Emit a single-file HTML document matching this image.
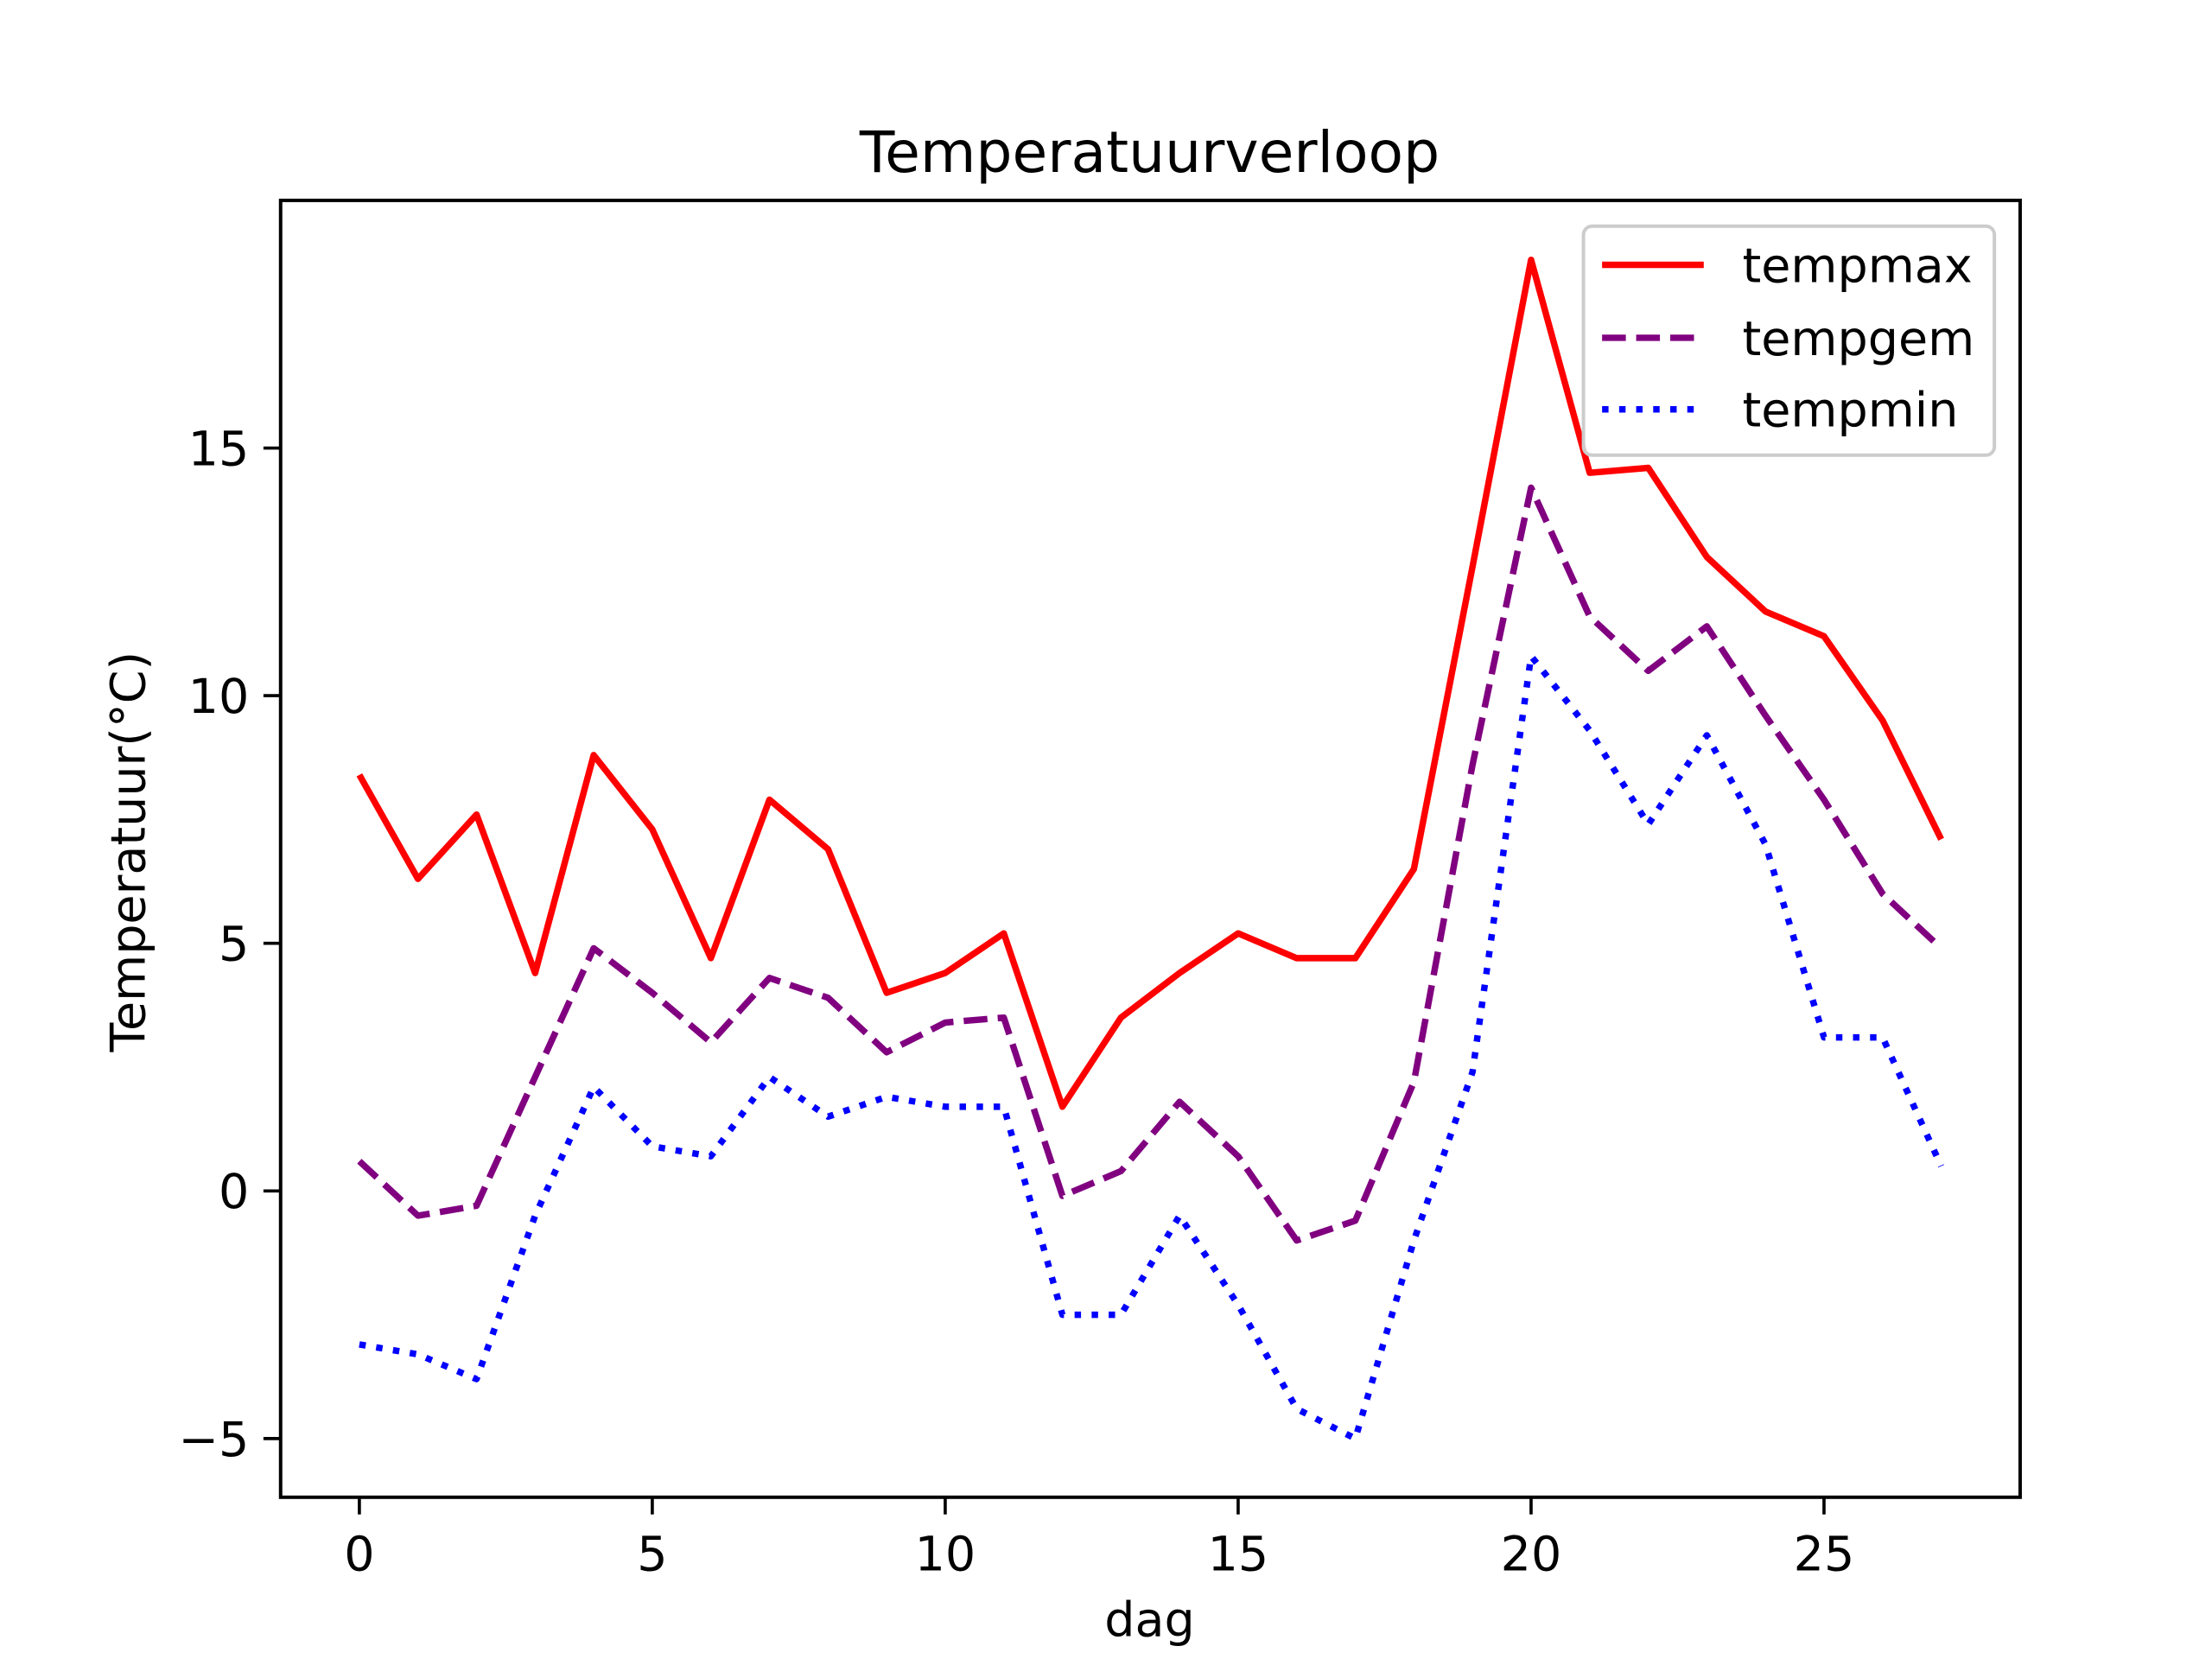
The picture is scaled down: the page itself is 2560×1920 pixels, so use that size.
<!DOCTYPE html>
<html><head><meta charset="utf-8"><style>html,body{margin:0;padding:0;background:#fff}svg{display:block}</style></head>
<body>
<svg id="s" width="2560" height="1920" viewBox="0 0 1545 1159" preserveAspectRatio="none" xmlns="http://www.w3.org/2000/svg" font-family="DejaVu Sans, Liberation Sans, sans-serif">
<rect width="1545" height="1159" fill="#fff"/>
<text x="803" y="120" font-size="40" text-anchor="middle">Temperatuurverloop</text>
<g id="lines" fill="none" stroke-width="4.5"></g>
<rect x="196" y="140" width="1215" height="906" fill="none" stroke="#000" stroke-width="2.4"/>
<g id="ticks" font-size="33.5" fill="#000"></g>
<text x="803" y="1143" font-size="33.5" text-anchor="middle">dag</text>
<text transform="translate(101,595) rotate(-90)" font-size="33.5" text-anchor="middle">Temperatuur(°C)</text>
<rect x="1106" y="158" width="287" height="160" rx="6" fill="#fff" fill-opacity="0.8" stroke="#ccc" stroke-width="2.4"/>
<line x1="1119" y1="185" x2="1190" y2="185" stroke="#f00" stroke-width="4.5"/>
<line x1="1119" y1="236" x2="1190" y2="236" stroke="#800080" stroke-width="4.5" stroke-dasharray="16.6,7.2"/>
<line x1="1119" y1="286" x2="1190" y2="286" stroke="#00f" stroke-width="4.5" stroke-dasharray="4.5,7.4"/>
<text x="1217" y="197" font-size="33.5">tempmax</text>
<text x="1217" y="248" font-size="33.5">tempgem</text>
<text x="1217" y="298" font-size="33.5">tempmin</text>
</svg>
<script>
var X=function(d){return 251+d*40.92},Y=function(v){return 832-v*34.6};
var mx=[8.4,6.3,7.6,4.4,8.8,7.3,4.7,7.9,6.9,4.0,4.4,5.2,1.7,3.5,4.4,5.2,4.7,4.7,6.5,12.6,18.8,14.5,14.6,12.8,11.7,11.2,9.5,7.1];
var gm=[0.6,-0.5,-0.3,2.3,4.9,4.0,3.0,4.3,3.9,2.8,3.4,3.5,-0.1,0.4,1.8,0.7,-1.0,-0.6,2.2,8.6,14.2,11.6,10.5,11.4,9.6,7.9,6.0,4.9];
var mn=[-3.1,-3.3,-3.8,-0.5,2.1,0.9,0.7,2.3,1.5,1.9,1.7,1.7,-2.5,-2.5,-0.5,-2.3,-4.4,-5.0,-1.0,2.4,10.8,9.3,7.4,9.2,7.0,3.1,3.1,0.5];
var ns="http://www.w3.org/2000/svg",L=document.getElementById('lines'),T=document.getElementById('ticks');
function pl(a,c,da){var p=document.createElementNS(ns,'polyline');p.setAttribute('points',a.map(function(v,i){return X(i)+','+Y(v)}).join(' '));p.setAttribute('stroke',c);if(da)p.setAttribute('stroke-dasharray',da);p.setAttribute('stroke-linejoin','round');L.appendChild(p);}
pl(mx,'#f00');pl(gm,'#800080','16.6,7.2');pl(mn,'#00f','4.5,7.4');
function el(n,a,t){var e=document.createElementNS(ns,n);for(var k in a)e.setAttribute(k,a[k]);if(t!==undefined)e.textContent=t;T.appendChild(e);}
[0,5,10,15,20,25].forEach(function(d){var x=X(d);el('line',{x1:x,x2:x,y1:1046,y2:1058,stroke:'#000','stroke-width':2.2});el('text',{x:x,y:1097,'text-anchor':'middle'},String(d));});
[-5,0,5,10,15].forEach(function(v){var y=Y(v);el('line',{x1:184,x2:196,y1:y,y2:y,stroke:'#000','stroke-width':2.2});el('text',{x:174,y:y+12,'text-anchor':'end'},v<0?'\u2212'+(-v):String(v));});
</script>
</body></html>
